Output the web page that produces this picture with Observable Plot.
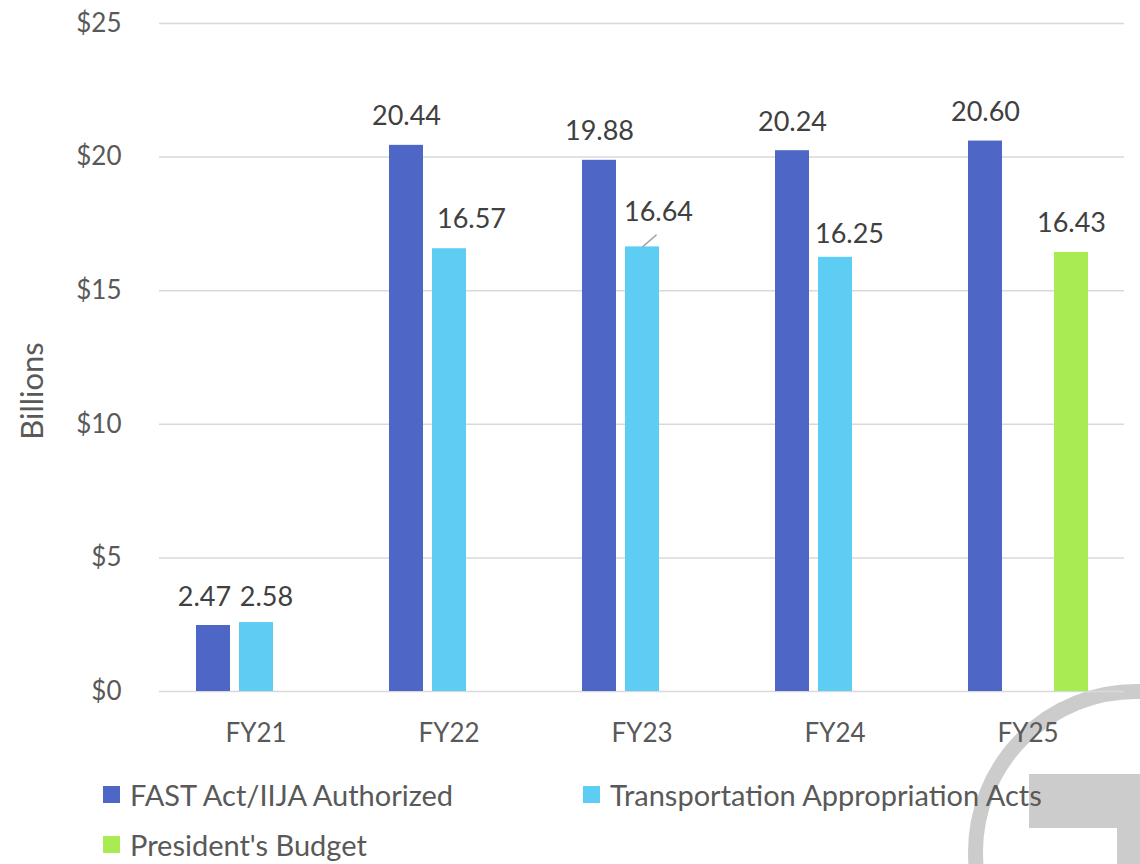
<!DOCTYPE html>
<html>
<head>
<meta charset="utf-8">
<script src="https://cdn.jsdelivr.net/npm/d3@7"></script>
<script src="https://cdn.jsdelivr.net/npm/@observablehq/plot@0.6"></script>
<style>
  html, body { margin: 0; padding: 0; background: #fff; }
  #wrap { position: relative; width: 1140px; height: 864px; overflow: hidden; background: #fff; font-family: Lato, "Open Sans", sans-serif; }
  #mark { position: absolute; left: 0; top: 0; z-index: 0; }
  #chart { position: absolute; left: 0; top: 0; z-index: 1; }
  #ylabel { position: absolute; z-index: 2; left: 31px; top: 391px; transform: translate(-50%, -50%) rotate(-90deg); font-size: 31px; color: #595959; white-space: nowrap; }
  #legend { position: absolute; z-index: 2; left: 103px; top: 776px; display: grid; grid-template-columns: 480px 480px; row-gap: 13px; font-size: 29px; color: #595959; }
  .item { display: flex; align-items: center; height: 37px; line-height: 37px; white-space: nowrap; }
  .sw { width: 17px; height: 17px; margin-right: 10px; flex: none; }
</style>
</head>
<body>
<div id="wrap">
  <svg id="mark" width="1140" height="864">
    <circle cx="1136" cy="852" r="160.5" fill="none" stroke="#cccccc" stroke-width="15"></circle>
    <path d="M1029,774 H1140 V864 H1117 V828 H1029 Z" fill="#cccccc"></path>
  </svg>
  <div id="chart"></div>
  <div id="ylabel">Billions</div>
  <div id="legend"></div>
</div>
<script>
// ---- data ----
const years = ["FY21", "FY22", "FY23", "FY24", "FY25"];
const series = ["FAST Act/IIJA Authorized", "Transportation Appropriation Acts", "President's Budget"];
const fastAuthorized   = [2.47, 20.44, 19.88, 20.24, 20.60];
const appropriations   = [2.58, 16.57, 16.64, 16.25, null];
const presidentsBudget = [null, null, null, null, 16.43];
const yTicks = [0, 5, 10, 15, 20, 25];
const seriesColors = ["#4e66c5", "#5dcdf3", "#a9eb52"];

// label placement nudges (pixels) as in the original, keyed by year|series index
const labelNudge = {
  "FY21|0": [-9, 0], "FY21|1": [10, 3],
  "FY22|1": [22, -1], "FY23|1": [16, -6], "FY24|1": [14, 6]
};
// leader line for the nudged label
const leaders = [{year: "FY23", s: 1}];

// ---- build rows ----
const valueArrays = [fastAuthorized, appropriations, presidentsBudget];
const rows = [];
years.forEach((year, i) => {
  valueArrays.forEach((arr, s) => {
    if (arr[i] != null) {
      const n = labelNudge[year + "|" + s] || [0, 0];
      rows.push({year, series: series[s], value: arr[i], label: arr[i].toFixed(2), ndx: n[0], ndy: n[1]});
    }
  });
});
const leaderRows = leaders.map(l => ({year: l.year, series: series[l.s], value: valueArrays[l.s][years.indexOf(l.year)]}));

const labelMarks = rows.map(r => Plot.text([r], {
  fx: "year", x: "series", y: "value", text: "label",
  lineAnchor: "bottom", dy: -20 + r.ndy, dx: r.ndx,
  fontSize: 27, fill: "#404040"
}));

const chart = Plot.plot({
  width: 1140,
  height: 751,
  marginTop: 23,
  marginBottom: 60,
  marginLeft: 157,
  marginRight: 14,
  style: {fontFamily: "Lato, 'Open Sans', sans-serif", fontSize: "26px", color: "#595959", background: "transparent", overflow: "visible"},
  fx: {domain: years, padding: 0, label: null, axis: "bottom", tickSize: 0, tickPadding: 32},
  x: {domain: series, paddingInner: 0.218, paddingOuter: 0.8366, axis: null},
  y: {domain: [0, 25], ticks: yTicks, tickFormat: d => "$" + d, tickSize: 0, tickPadding: 38, label: null},
  color: {domain: series, range: seriesColors},
  marks: [
    Plot.ruleY(yTicks, {stroke: "#d9d9d9", strokeWidth: 1.5}),
    Plot.barY(rows, {fx: "year", x: "series", y: "value", fill: "series"}),
    Plot.vector(leaderRows, {fx: "year", x: "series", y: "value", length: 18, rotate: 49, anchor: "start", shape: "spike", r: 0, stroke: "#a6a6a6", strokeWidth: 1.5}),
    ...labelMarks
  ]
});
document.getElementById("chart").appendChild(chart);

// ---- legend ----
const legend = document.getElementById("legend");
series.forEach((name, i) => {
  const item = document.createElement("div");
  item.className = "item";
  const sw = document.createElement("span");
  sw.className = "sw";
  sw.style.background = seriesColors[i];
  const tx = document.createElement("span");
  tx.textContent = name;
  item.appendChild(sw);
  item.appendChild(tx);
  legend.appendChild(item);
});
</script>
</body>
</html>
